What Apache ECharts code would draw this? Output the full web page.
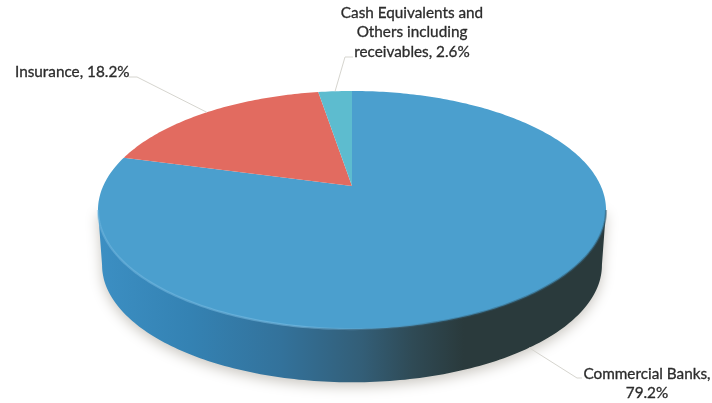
<!DOCTYPE html>
<html>
<head>
<meta charset="utf-8">
<style>html,body{margin:0;padding:0;background:#fff}#chart{width:712px;height:403px}</style>
<script src="https://cdn.jsdelivr.net/npm/echarts@6/dist/echarts.min.js"></script>
</head>
<body>
<div id="chart"></div>
<script>
// Portfolio split, clockwise from twelve o'clock
const categories = ['Commercial Banks', 'Insurance', 'Cash Equivalents and\nOthers including\nreceivables'];
const shares = [79.2, 18.2, 2.6];
const valueSeparators = [',\n', ', ', ', '];
const sliceColors = ['#4b9fce', '#e26b60', '#5dbccf'];

// Perspective disc: circle points are projected with a depth term
const disc = { cx: 352, cy: 186, a: 248.8, b: 114.2, k: 0.2016 };
const base = { cx: 352, cy: 241.5, a: 244.8, b: 112.4, k: 0.2016 };
const total = shares.reduce((s, v) => s + v, 0);
const startOf = i => shares.slice(0, i).reduce((s, v) => s + v, 0) / total * Math.PI * 2;
const project = (d, t) => {
  const w = 1 + d.k * Math.cos(t);
  return [d.cx + d.a * Math.sin(t) / w, d.cy - d.b * Math.cos(t) / w];
};
const arc = (d, t0, t1) => {
  const n = Math.max(2, Math.ceil(Math.abs(t1 - t0) * 60));
  return Array.from({ length: n + 1 }, (_, j) => project(d, t0 + (t1 - t0) * j / n));
};
const frontStart = Math.acos(-disc.k);
const frontEnd = Math.PI * 2 - frontStart;

// Label boxes and the elbow each leader passes through
const labelPlace = [
  { x: 647, y: 383.5, align: 'center', elbow: [[577, 378], [582, 378]], onBase: true },
  { x: 15, y: 72.5, align: 'left', elbow: [[137, 77], [129, 77]] },
  { x: 412, y: 32.5, align: 'center', elbow: [[345, 57], [353, 57]] }
];

const wallGradient = new echarts.graphic.LinearGradient(98, 0, 606, 0, [
  { offset: 0, color: '#3c8fc3' },
  { offset: 0.18, color: '#3482b3' },
  { offset: 0.36, color: '#33729b' },
  { offset: 0.52, color: '#335e77' },
  { offset: 0.62, color: '#2f4a55' },
  { offset: 0.72, color: '#2a3a3c' },
  { offset: 1, color: '#2a3a3c' }
], true);
const rimGradient = new echarts.graphic.LinearGradient(98, 0, 606, 0, [
  { offset: 0, color: 'rgba(125,190,228,0.45)' },
  { offset: 0.4, color: 'rgba(125,190,228,0.55)' },
  { offset: 0.56, color: 'rgba(100,160,195,0.2)' },
  { offset: 0.66, color: 'rgba(50,90,110,0.4)' },
  { offset: 1, color: 'rgba(50,90,110,0.5)' }
], true);

const seriesData = shares.map((v, i) => [v, i]);

function renderWall(params, api) {
  const i = api.value(1);
  const t0 = Math.max(startOf(i), frontStart);
  const t1 = Math.min(startOf(i) + api.value(0) / total * Math.PI * 2, frontEnd);
  if (t1 <= t0) return null;
  const pts = [project(disc, t0)].concat(arc(base, t0, t1), [project(disc, t1)]);
  return {
    type: 'polygon',
    shape: { points: pts },
    style: { fill: wallGradient, shadowBlur: 13, shadowOffsetY: 4, shadowColor: 'rgba(165,160,150,0.6)' }
  };
}

function renderSlice(params, api) {
  const i = api.value(1);
  const t0 = startOf(i);
  const t1 = t0 + api.value(0) / total * Math.PI * 2;
  return {
    type: 'polygon',
    shape: { points: [[disc.cx, disc.cy]].concat(arc(disc, t0, t1)) },
    style: { fill: sliceColors[i] }
  };
}

function renderRim(params, api) {
  const i = api.value(1);
  const t0 = Math.max(startOf(i), frontStart);
  const t1 = Math.min(startOf(i) + api.value(0) / total * Math.PI * 2, frontEnd);
  if (t1 <= t0) return null;
  return {
    type: 'polyline',
    shape: { points: arc(disc, t0, t1) },
    style: { fill: null, stroke: rimGradient, lineWidth: 2.2 }
  };
}

function renderLabel(params, api) {
  const i = api.value(1);
  const place = labelPlace[i];
  const mid = startOf(i) + api.value(0) / total * Math.PI;
  const anchor = project(place.onBase ? base : disc, mid);
  return {
    type: 'group',
    children: [
      {
        type: 'polyline',
        shape: { points: [anchor].concat(place.elbow) },
        style: { fill: null, stroke: '#d6d5cf', lineWidth: 1 }
      },
      {
        type: 'text',
        style: {
          text: categories[i] + valueSeparators[i] + api.value(0).toFixed(1) + '%',
          x: place.x,
          y: place.y,
          align: place.align,
          verticalAlign: 'middle',
          fill: '#2b2b2b',
          stroke: '#2b2b2b',
          lineWidth: 0.3,
          font: '15.3px Lato',
          lineHeight: 19.6
        }
      }
    ]
  };
}

const layer = (name, renderItem, z) => ({
  name, type: 'custom', coordinateSystem: 'none', silent: true, z,
  data: seriesData, renderItem, animation: false, clip: false
});

const chart = echarts.init(document.getElementById('chart'), null, { renderer: 'canvas' });
chart.setOption({
  backgroundColor: '#ffffff',
  animation: false,
  tooltip: { show: false },
  series: [
    layer('wall', renderWall, 1),
    layer('slices', renderSlice, 2),
    layer('rim', renderRim, 3),
    layer('labels', renderLabel, 4)
  ]
});
</script>
</body>
</html>
